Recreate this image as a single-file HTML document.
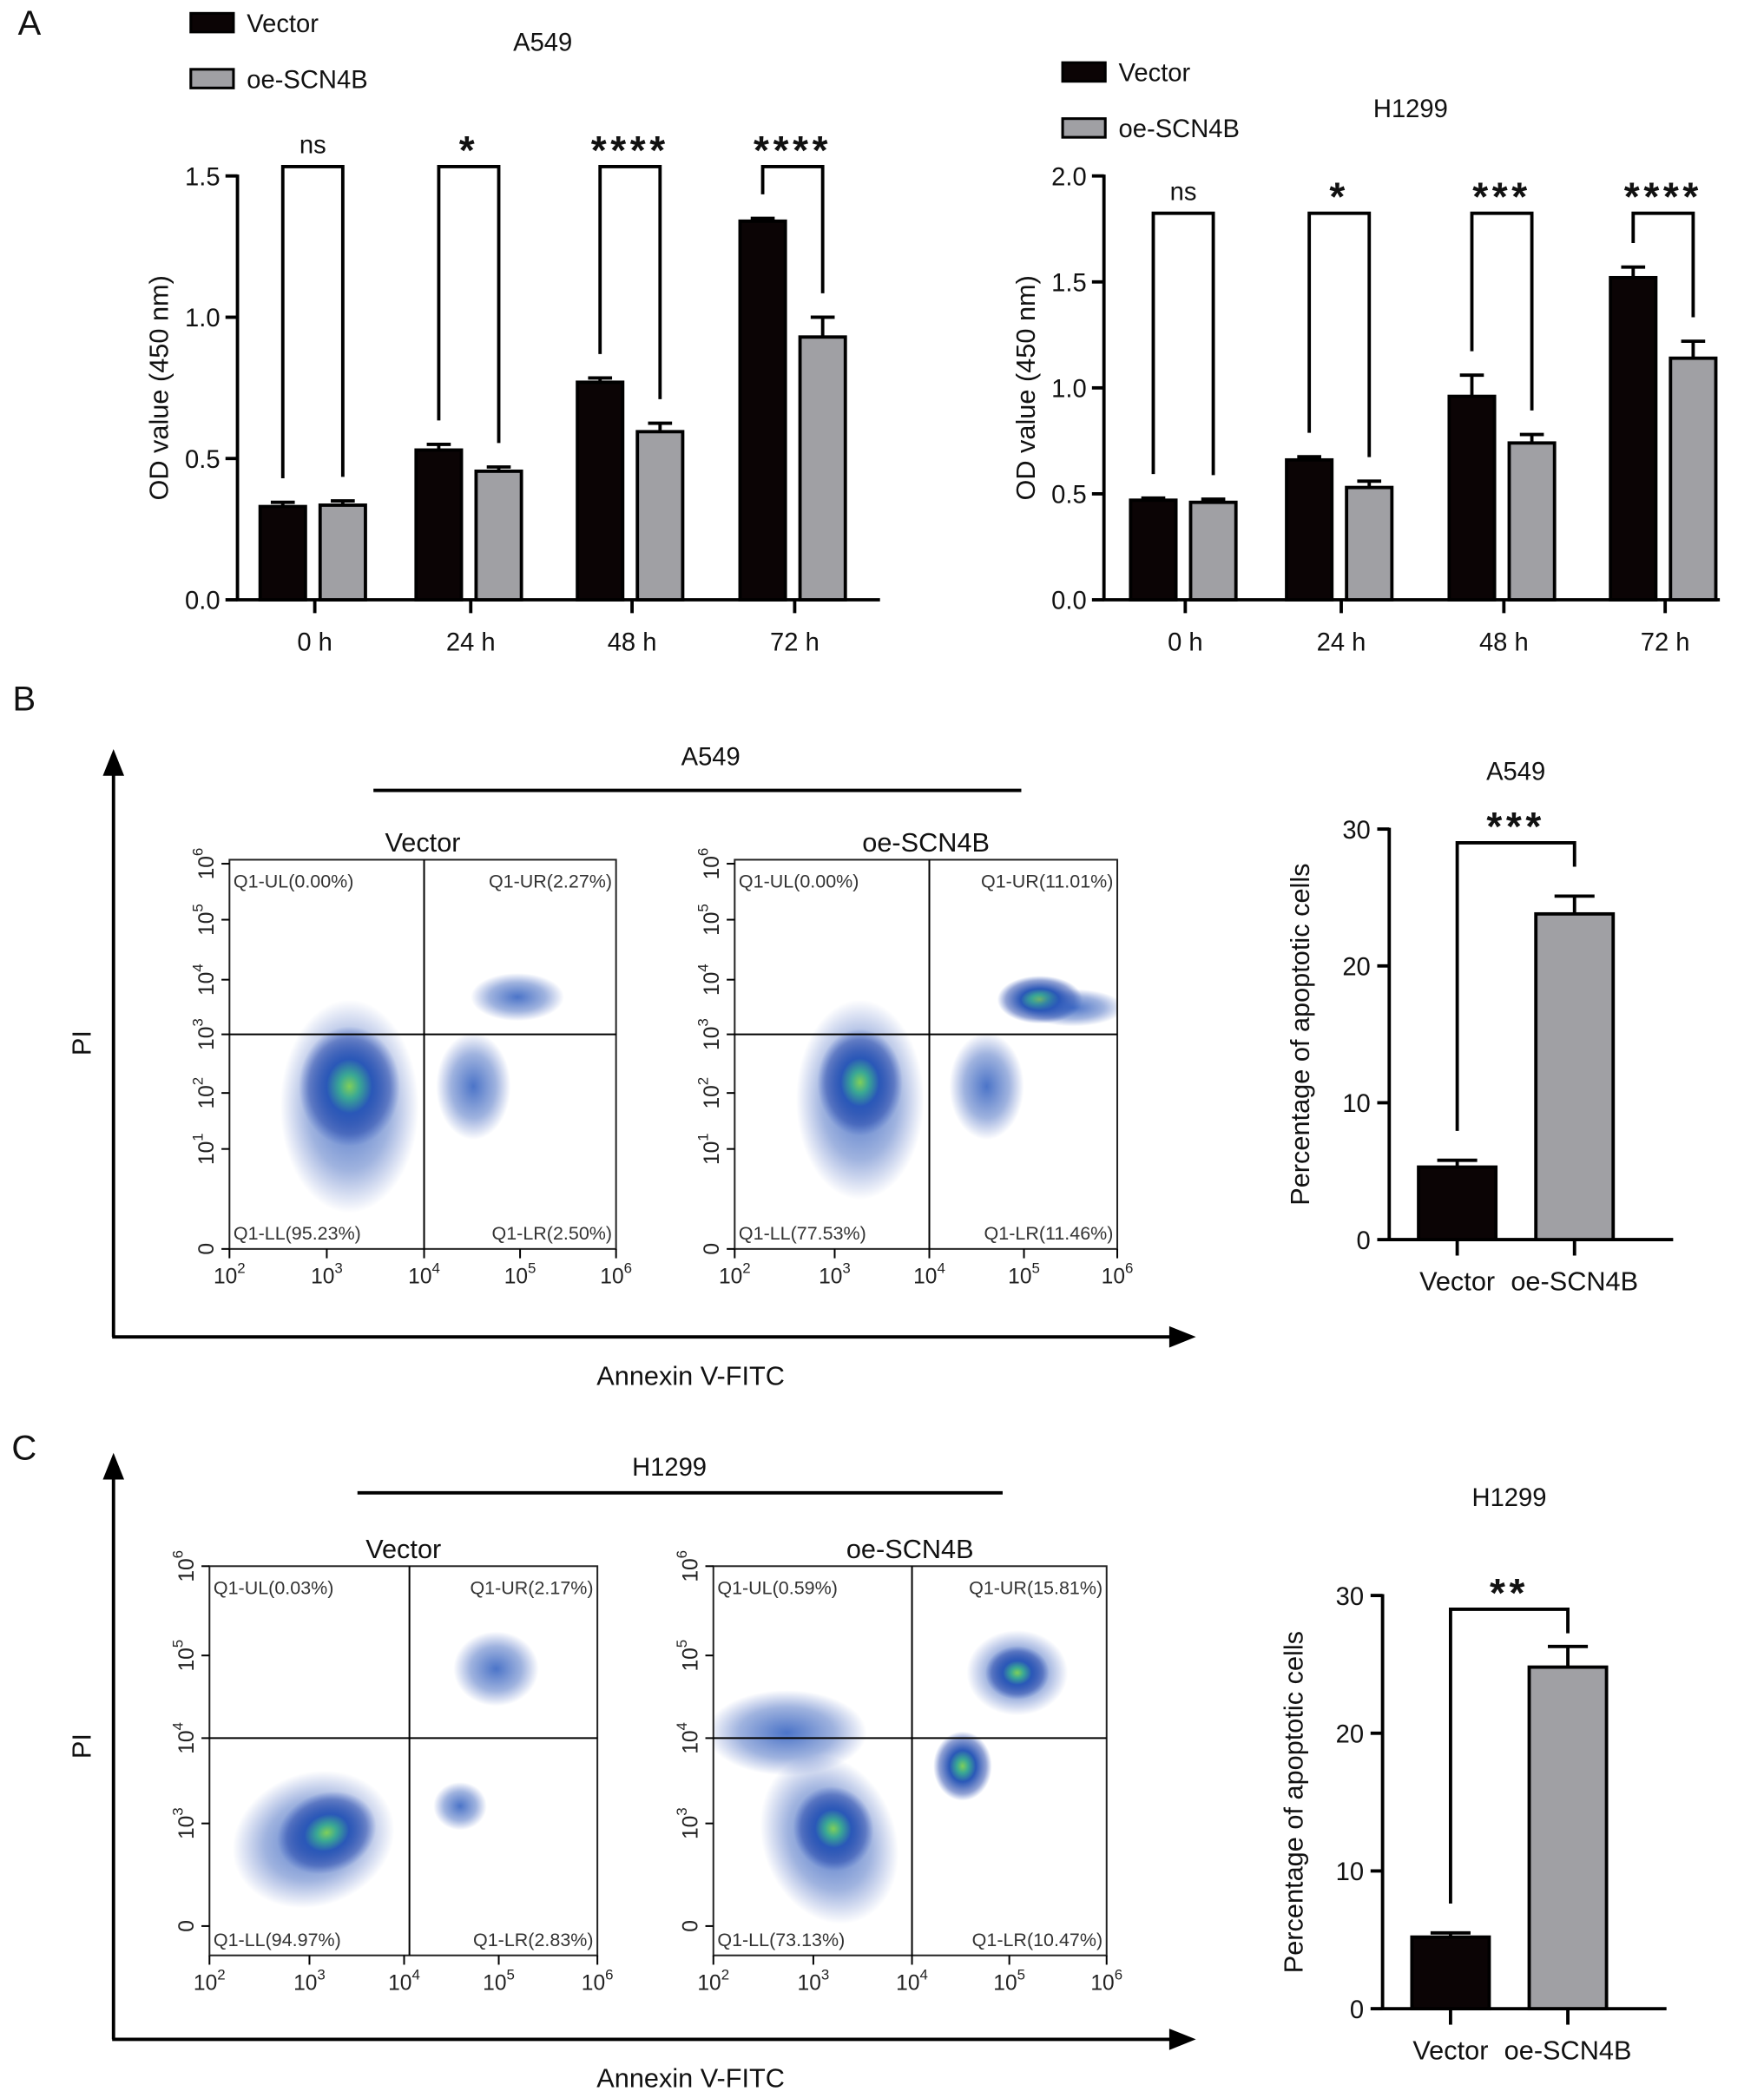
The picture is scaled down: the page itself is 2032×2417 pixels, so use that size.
<!DOCTYPE html>
<html><head><meta charset="utf-8"><style>
html,body{margin:0;padding:0;background:#fff;}
svg{display:block;font-family:"Liberation Sans",Arial,sans-serif;}
</style></head><body>
<svg id="fig" width="2032" height="2417" viewBox="0 0 1323 1574" xmlns="http://www.w3.org/2000/svg">
<defs>
<radialGradient id="blob" cx="50%" cy="50%" r="50%">
<stop offset="0" stop-color="#7fcf5a"/><stop offset="0.2" stop-color="#3aa894"/><stop offset="0.45" stop-color="#2a58b8"/><stop offset="0.8" stop-color="#2446aa" stop-opacity="0.5"/><stop offset="1" stop-color="#2b4fb8" stop-opacity="0"/>
</radialGradient>
<radialGradient id="blobs" cx="50%" cy="50%" r="50%">
<stop offset="0" stop-color="#2c5cbf" stop-opacity="0.85"/><stop offset="0.6" stop-color="#2a56b8" stop-opacity="0.45"/><stop offset="1" stop-color="#2b4fb8" stop-opacity="0"/>
</radialGradient>
</defs>
<g id="root"></g>
</svg>
<script>
// ---- Panel A data ----
const timeCats = ["0 h","24 h","48 h","72 h"];
const a549Vector = [0.33,0.53,0.77,1.34];
const a549VectorErr = [0.015,0.02,0.015,0.01];
const a549Oe = [0.335,0.455,0.595,0.93];
const a549OeErr = [0.015,0.015,0.03,0.07];
const a549Sig = ["ns","*","****","****"];
const a549Ticks = [0,0.5,1.0,1.5];
const h1299Vector = [0.47,0.66,0.96,1.52];
const h1299VectorErr = [0.01,0.015,0.1,0.05];
const h1299Oe = [0.46,0.53,0.74,1.14];
const h1299OeErr = [0.015,0.03,0.04,0.08];
const h1299Sig = ["ns","*","***","****"];
const h1299Ticks = [0,0.5,1.0,1.5,2.0];
// ---- Apoptosis bar data ----
const apopCats = ["Vector","oe-SCN4B"];
const apopA549 = [5.3,23.8];
const apopA549Err = [0.5,1.3];
const apopH1299 = [5.2,24.8];
const apopH1299Err = [0.3,1.5];
const apopTicks = [0,10,20,30];
// ---- Flow quadrant labels ----
const flowB1 = ["Q1-UL(0.00%)","Q1-UR(2.27%)","Q1-LL(95.23%)","Q1-LR(2.50%)"];
const flowB2 = ["Q1-UL(0.00%)","Q1-UR(11.01%)","Q1-LL(77.53%)","Q1-LR(11.46%)"];
const flowC1 = ["Q1-UL(0.03%)","Q1-UR(2.17%)","Q1-LL(94.97%)","Q1-LR(2.83%)"];
const flowC2 = ["Q1-UL(0.59%)","Q1-UR(15.81%)","Q1-LL(73.13%)","Q1-LR(10.47%)"];

const NS="http://www.w3.org/2000/svg";
const root=document.getElementById('root');
function el(tag,attrs,parent,text){const e=document.createElementNS(NS,tag);for(const k in attrs)e.setAttribute(k,attrs[k]);if(text!==undefined)e.textContent=text;(parent||root).appendChild(e);return e;}
function line(x1,y1,x2,y2,w,p){return el('line',{x1,y1,x2,y2,stroke:'#000','stroke-width':w||2},p);}
function txt(x,y,s,size,anchor,p,extra){const a={x,y,'font-size':size,'text-anchor':anchor||'middle',fill:'#111'};if(extra)Object.assign(a,extra);return el('text',a,p,s);}

function groupedChart(o){
  const g=el('g',{});
  
  
  const ys=v=>o.y0-(v/o.ymax)*(o.y0-o.y1);
  line(o.x0,o.y0,o.x0,o.y1-1,2.5,g);
  line(o.x0-1,o.y0,o.xEnd,o.y0,2.5,g);
  o.ticks.forEach(t=>{line(o.x0-9,ys(t),o.x0,ys(t),2.5,g);const l=txt(o.x0-13,ys(t)+7,t.toFixed(1),19,'end',g);});
  const yt=txt(0,0,'OD value (450 nm)',20,'middle',g,{transform:`translate(${o.x0-52},${(o.y0+o.y1)/2}) rotate(-90)`});
  
  o.cats.forEach((c,i)=>{
    const cx=o.cx[i];
    line(cx,o.y0,cx,o.y0+10,2.5,g);
    const xl=txt(cx,o.y0+38,c,19,'middle',g);
    const bw=34;
    [[o.v1,o.e1,'#0b0405',cx-41],[o.v2,o.e2,'#a0a0a4',cx+4]].forEach(([vals,errs,col,bx],k)=>{
      const top=ys(vals[i]);
      const r=el('rect',{x:bx,y:top,width:bw,height:o.y0-top,fill:col,stroke:'#000','stroke-width':2.5},g);
      
      const et=ys(vals[i]+errs[i]);
      line(bx+bw/2,top,bx+bw/2,et,2.5,g);line(bx+bw/2-9,et,bx+bw/2+9,et,2.5,g);
    });
    const lx=cx-24,rx=cx+21,bt=o.brTop;
    const ly=ys(o.v1[i]+o.e1[i])-18,ry=ys(o.v2[i]+o.e2[i])-18;
    const br=el('polyline',{points:`${lx},${ly} ${lx},${bt} ${rx},${bt} ${rx},${ry}`,fill:'none',stroke:'#000','stroke-width':2.5},g);
    
    const isNs=o.sig[i]==='ns';
    const s=txt((lx+rx)/2,bt-(isNs?10:2),o.sig[i],isNs?19:30,'middle',g,isNs?{}:{'font-weight':'bold','letter-spacing':'3'});
    
  });
  const lg=el('g',{},g);
  el('rect',{x:o.lx,y:o.ly,width:32,height:14,fill:'#0b0405',stroke:'#000','stroke-width':2},lg);
  txt(o.lx+42,o.ly+14,'Vector',19,'start',lg);
  el('rect',{x:o.lx,y:o.ly+42,width:32,height:14,fill:'#a0a0a4',stroke:'#000','stroke-width':2},lg);
  txt(o.lx+42,o.ly+56,'oe-SCN4B',19,'start',lg);
  const ti=txt(o.tx,o.ty,o.title,19,'middle',g);
}

groupedChart({name:'a549-od-chart',x0:178,y0:450,y1:132,ymax:1.5,xEnd:660,cx:[236,353,474,596],cats:timeCats,v1:a549Vector,e1:a549VectorErr,v2:a549Oe,e2:a549OeErr,sig:a549Sig,ticks:a549Ticks,brTop:125,lx:143,ly:10,tx:407,ty:38,title:'A549'});
groupedChart({name:'h1299-od-chart',x0:828,y0:450,y1:132,ymax:2.0,xEnd:1290,cx:[889,1006,1128,1249],cats:timeCats,v1:h1299Vector,e1:h1299VectorErr,v2:h1299Oe,e2:h1299OeErr,sig:h1299Sig,ticks:h1299Ticks,brTop:160,lx:797,ly:47,tx:1058,ty:88,title:'H1299'});

function apopChart(o){
  const g=el('g',{});
  
  const ys=v=>o.y0-(v/30)*(o.y0-o.y1);
  line(o.x0,o.y0,o.x0,o.y1-1,2.5,g);
  line(o.x0-1,o.y0,o.xEnd,o.y0,2.5,g);
  apopTicks.forEach(t=>{line(o.x0-9,ys(t),o.x0,ys(t),2.5,g);txt(o.x0-14,ys(t)+7,String(t),19,'end',g);});
  const yt=txt(0,0,'Percentage of apoptotic cells',20,'middle',g,{transform:`translate(${o.x0-60},${(o.y0+o.y1)/2}) rotate(-90)`});
  
  const cxs=[o.x0+51,o.x0+139];const cols=['#0b0405','#a0a0a4'];
  apopCats.forEach((c,i)=>{
    const cx=cxs[i],top=ys(o.v[i]);
    const r=el('rect',{x:cx-29,y:top,width:58,height:o.y0-top,fill:cols[i],stroke:'#000','stroke-width':2.5},g);
    
    const et=ys(o.v[i]+o.e[i]);line(cx,top,cx,et,2.5,g);line(cx-15,et,cx+15,et,2.5,g);
    line(cx,o.y0,cx,o.y0+12,2.5,g);
    const l=txt(cx,o.y0+38,c,20,'middle',g);
  });
  const bt=ys(29);
  el('polyline',{points:`${cxs[0]},${ys(o.v[0]+o.e[0])-22} ${cxs[0]},${bt} ${cxs[1]},${bt} ${cxs[1]},${bt+18}`,fill:'none',stroke:'#000','stroke-width':2.5},g);
  txt((cxs[0]+cxs[1])/2,bt-2,o.sig,30,'middle',g,{'font-weight':'bold','letter-spacing':'3'});
  txt((cxs[0]+cxs[1])/2,o.ty,o.title,19,'middle',g);
}
apopChart({name:'a549-apoptosis-chart',x0:1042,y0:930,y1:622,xEnd:1255,v:apopA549,e:apopA549Err,sig:'***',ty:585,title:'A549'});
apopChart({name:'h1299-apoptosis-chart',x0:1037,y0:1507,y1:1197,xEnd:1250,v:apopH1299,e:apopH1299Err,sig:'**',ty:1130,title:'H1299'});

function arrows(y0,yTop,name){
  const g=el('g',{});
  line(85,y0,85,yTop+14,2.5,g);line(84,y0,882,y0,2.5,g);
  el('polygon',{points:`85,${yTop} 77,${yTop+20} 93,${yTop+20}`,fill:'#000'},g);
  el('polygon',{points:`897,${y0} 877,${y0-8} 877,${y0+8}`,fill:'#000'},g);
  txt(0,0,'PI',20,'middle',g,{transform:`translate(68,${(y0+yTop)/2}) rotate(-90)`});
  txt(518,y0+36,'Annexin V-FITC',20,'middle',g);
}
arrows(1003,562,'b-axes-arrows');arrows(1530,1090,'c-axes-arrows');

function flow(o){
  const g=el('g',{});
  const cp='cp'+o.name;const c=el('clipPath',{id:cp},g);el('rect',{x:o.x0,y:o.y0,width:o.x1-o.x0,height:o.y1-o.y0},c);
  const bl=el('g',{'clip-path':`url(#${cp})`},g);
  o.blobs.forEach(b=>{const e=el('ellipse',{cx:b[0],cy:b[1],rx:b[2],ry:b[3],fill:`url(#${b[4]||'blob'})`,transform:`rotate(${b[5]||0} ${b[0]} ${b[1]})`},bl);});
  el('rect',{x:o.x0,y:o.y0,width:o.x1-o.x0,height:o.y1-o.y0,fill:'none',stroke:'#222','stroke-width':1.3},g);
  line(o.qx,o.y0,o.qx,o.y1,1.3,g);line(o.x0,o.qy,o.x1,o.qy,1.3,g);
  const q=o.labels,f=14;
  txt(o.x0+3,o.y0+21,q[0],f,'start',g,{fill:'#333'});txt(o.x1-3,o.y0+21,q[1],f,'end',g,{fill:'#333'});
  txt(o.x0+3,o.y1-7,q[2],f,'start',g,{fill:'#333'});txt(o.x1-3,o.y1-7,q[3],f,'end',g,{fill:'#333'});
  txt((o.x0+o.x1)/2,o.y0-6,o.title,20,'middle',g);
  o.xt.forEach((x,i)=>{line(x,o.y1,x,o.y1+7,1.3,g);const t=txt(x,o.y1+26,'10',16,'middle',g,{fill:'#222'});el('tspan',{dy:-8,'font-size':11},t,String(i+2));});
  o.yt.forEach((y,i)=>{line(o.x0-6,y,o.x0,y,1.3,g);const lab=o.ylab[i];const t=txt(0,0,lab==='0'?'0':'10',16,'middle',g,{fill:'#222',transform:`translate(${o.x0-12},${y}) rotate(-90)`});if(lab!=='0')el('tspan',{dy:-8,'font-size':11},t,lab);});
}
const yB=[937,862,820,776,735,690,648],labB=['0','1','2','3','4','5','6'];
flow({name:'flow-a549-vector',x0:172,x1:462,y0:645,y1:937,qx:318,qy:776,xt:[172,245,318,390,462],yt:yB,ylab:labB,labels:flowB1,title:'Vector',
 blobs:[[262,830,52,80,'blobs'],[262,815,38,45],[355,815,28,40,'blobs'],[388,748,35,18,'blobs']]});
flow({name:'flow-a549-oe',x0:551,x1:838,y0:645,y1:937,qx:697,qy:776,xt:[551,626,697,768,838],yt:yB,ylab:labB,labels:flowB2,title:'oe-SCN4B',
 blobs:[[645,825,48,75,'blobs'],[645,812,32,40],[740,815,28,40,'blobs'],[780,750,32,18],[805,756,38,14,'blobs']]});
const yC=[1445,1368,1304,1242,1175],labC=['0','3','4','5','6'];
flow({name:'flow-h1299-vector',x0:157,x1:448,y0:1175,y1:1467,qx:307,qy:1304,xt:[157,232,303,374,448],yt:yC,ylab:labC,labels:flowC1,title:'Vector',
 blobs:[[235,1380,62,50,'blobs',-20],[245,1375,38,30,'blob',-20],[345,1355,20,18,'blobs'],[372,1252,32,28,'blobs']]});
flow({name:'flow-h1299-oe',x0:535,x1:830,y0:1175,y1:1467,qx:684,qy:1304,xt:[535,610,684,757,830],yt:yC,ylab:labC,labels:flowC2,title:'oe-SCN4B',
 blobs:[[622,1380,50,65,'blobs',-20],[625,1372,30,32,'blob',-20],[722,1325,22,26],[763,1255,38,32,'blobs'],[763,1255,24,20],[590,1300,60,32,'blobs']]});

[['A',22,26],['B',18,533],['C',18,1095]].forEach(([s,x,y])=>{const t=txt(x,y,s,26,'middle');});
line(280,593,766,593,2.5);txt(533,574,'A549',19,'middle');
line(268,1120,752,1120,2.5);txt(502,1107,'H1299',19,'middle');
</script>
</body></html>
